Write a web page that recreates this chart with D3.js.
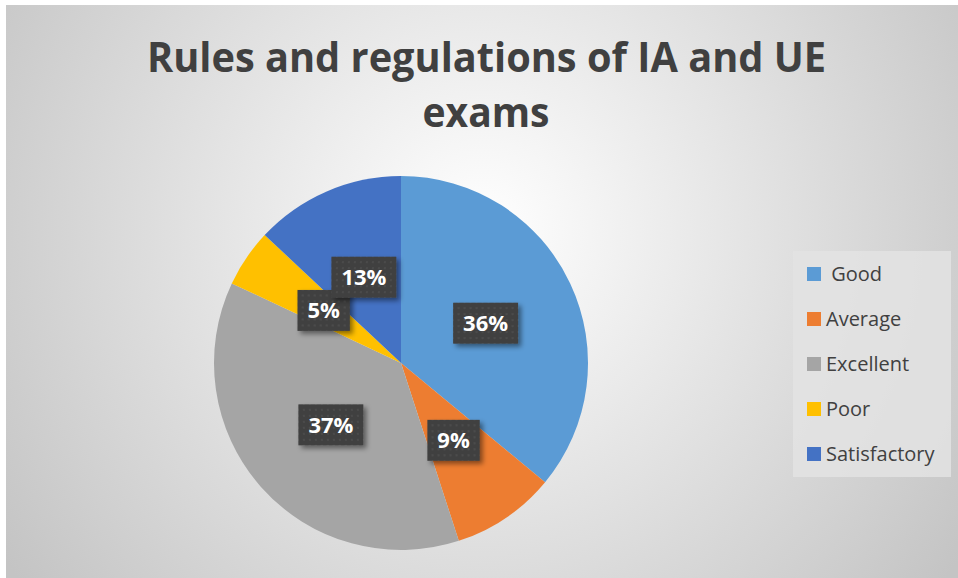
<!DOCTYPE html>
<html>
<head>
<meta charset="utf-8">
<script src="https://cdn.jsdelivr.net/npm/d3@7"></script>
<style>
  html, body { margin: 0; padding: 0; background: #fff; }
  svg { display: block; }
</style>
</head>
<body>
<svg id="chart" width="958" height="578"></svg>
<script>
const categories = ['Good', 'Average', 'Excellent', 'Poor', 'Satisfactory'];
const legendLabels = [' Good', 'Average', 'Excellent', 'Poor', 'Satisfactory'];
const shares = [36, 9, 37, 5, 13];
const colors = ['#5b9bd5', '#ed7d31', '#a5a5a5', '#ffc000', '#4472c4'];
const titleLines = ['Rules and regulations of IA and UE', 'exams'];

const width = 958;
const height = 578;
const svg = d3.select('#chart');
const defs = svg.append('defs');

// background: Excel style radial gradient
const bg = defs.append('radialGradient')
  .attr('id', 'bg')
  .attr('gradientUnits', 'userSpaceOnUse')
  .attr('cx', 482).attr('cy', 230).attr('r', 580);
bg.append('stop').attr('offset', '0%').attr('stop-color', '#ffffff');
bg.append('stop').attr('offset', '100%').attr('stop-color', '#c4c4c4');

// dotted label texture
const pattern = defs.append('pattern')
  .attr('id', 'dots')
  .attr('patternUnits', 'userSpaceOnUse')
  .attr('width', 6).attr('height', 6);
pattern.append('rect').attr('width', 6).attr('height', 6).attr('fill', '#404040');
pattern.append('rect').attr('x', 2).attr('y', 2).attr('width', 2).attr('height', 2).attr('fill', '#4c4c4c');

const shadow = defs.append('filter')
  .attr('id', 'shadow')
  .attr('x', '-30%').attr('y', '-30%').attr('width', '160%').attr('height', '160%');
shadow.append('feDropShadow')
  .attr('dx', 3).attr('dy', 3).attr('stdDeviation', 2.5)
  .attr('flood-color', '#000').attr('flood-opacity', 0.45);

svg.append('rect')
  .attr('x', 6).attr('y', 5)
  .attr('width', width - 6).attr('height', height - 5)
  .attr('fill', 'url(#bg)');

// title
const title = svg.append('g')
  .attr('font-family', '"Open Sans", sans-serif')
  .attr('font-weight', 700)
  .attr('font-size', 42)
  .attr('fill', '#404040')
  .attr('text-anchor', 'middle');

title.append('text')
  .attr('x', 486.5).attr('y', 72)
  .attr('textLength', 679)
  .attr('lengthAdjust', 'spacingAndGlyphs')
  .text(titleLines[0]);

title.append('text')
  .attr('x', 486).attr('y', 127)
  .attr('textLength', 127)
  .attr('lengthAdjust', 'spacingAndGlyphs')
  .text(titleLines[1]);

// pie
const cx = 401;
const cy = 363;
const radius = 187;

const pie = d3.pie().sort(null).value((d) => d);
const arcs = pie(shares);
const arc = d3.arc().innerRadius(0).outerRadius(radius);

const pieGroup = svg.append('g').attr('transform', `translate(${cx}, ${cy})`);

pieGroup.selectAll('path')
  .data(arcs)
  .join('path')
  .attr('d', arc)
  .attr('fill', (d, i) => colors[i]);

// data labels
const labels = pieGroup.selectAll('g.label')
  .data(arcs)
  .join('g')
  .attr('class', 'label')
  .attr('transform', (d) => `translate(${arc.centroid(d)})`);

labels.each(function (d) {
  const g = d3.select(this);
  const text = g.append('text')
    .attr('font-family', '"Open Sans", sans-serif')
    .attr('font-weight', 700)
    .attr('font-size', 22)
    .attr('fill', '#ffffff')
    .attr('text-anchor', 'middle')
    .attr('dy', '0.36em')
    .text(`${d.data}%`);
  const w = text.node().getComputedTextLength() + 20;
  const h = 41;
  g.insert('rect', 'text')
    .attr('x', -w / 2).attr('y', -h / 2)
    .attr('width', w).attr('height', h)
    .attr('fill', 'url(#dots)')
    .attr('filter', 'url(#shadow)');
});

// legend
const legend = svg.append('g');
legend.append('rect')
  .attr('x', 793).attr('y', 251)
  .attr('width', 158).attr('height', 226)
  .attr('fill', '#e3e3e3')
  .attr('fill-opacity', 0.85);

const legendY = d3.scalePoint()
  .domain(categories)
  .range([274, 454]);

const items = legend.selectAll('g.item')
  .data(categories)
  .join('g')
  .attr('class', 'item')
  .attr('transform', (d) => `translate(807, ${legendY(d)})`);

items.append('rect')
  .attr('x', 0).attr('y', -7)
  .attr('width', 14).attr('height', 14)
  .attr('fill', (d, i) => colors[i]);

items.append('text')
  .attr('x', 19)
  .attr('dy', '0.36em')
  .attr('font-family', '"Open Sans", sans-serif')
  .attr('font-size', 20)
  .attr('fill', '#404040')
  .style('white-space', 'pre')
  .attr('xml:space', 'preserve')
  .text((d, i) => legendLabels[i]);
</script>
</body>
</html>
